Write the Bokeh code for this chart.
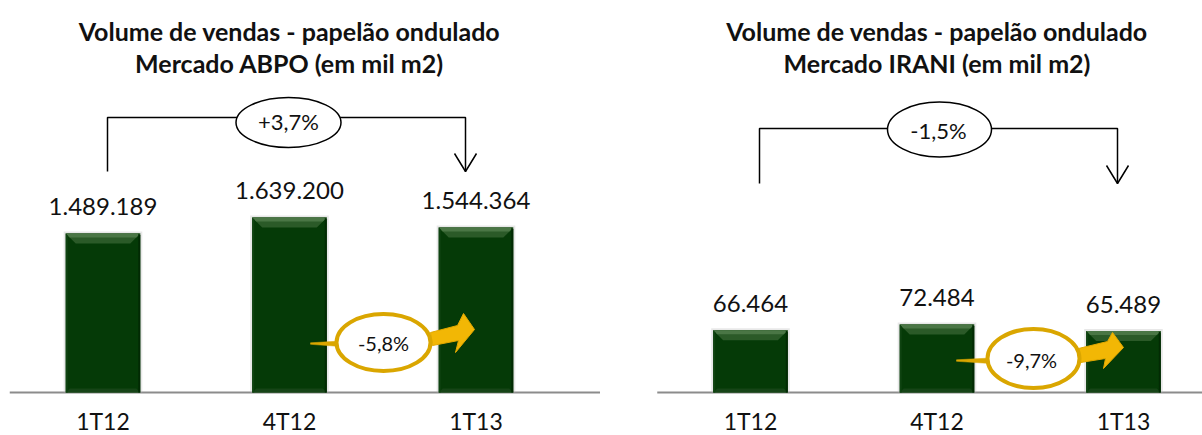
from bokeh.plotting import figure
from bokeh.layouts import row
from bokeh.models import Range1d
from bokeh.core.properties import value
from bokeh.embed import file_html
from bokeh.resources import INLINE

# ---------------- data ----------------
categories = ["1T12", "4T12", "1T13"]
abpo_volume = [1489189, 1639200, 1544364]
irani_volume = [66464, 72484, 65489]
title_line1 = "Volume de vendas - papelão ondulado"
abpo_title2 = "Mercado ABPO (em mil m2)"
irani_title2 = "Mercado IRANI (em mil m2)"
abpo_changes = ["+3,7%", "-5,8%"]    # 1T13 vs 1T12, 1T13 vs 4T12
irani_changes = ["-1,5%", "-9,7%"]

# ---------------- layout / style ----------------
H = 435
CAT_PX = 186.5
BASE_FY = 392
FONT = value("Lato")
BAR_W = 0.4
GREEN = "#053a07"
GOLD_LINE = "#DAA600"
GOLD_FILL = "#F2B705"

left_ann = dict(
    width=600, cat0=102.5, max_bar_px=175,
    br_left=107, br_right=465, br_top=117, br_bottom=171,
    br_ell=(288, 122, 105, 50), br_text=(288, 121),
    g_ell=(383, 342, 94, 57), g_text=(383, 342),
    tail=[(310, 342.3), (340, 340.5), (340, 346), (310, 343.8)],
    arrow=[(430, 332), (457, 325), (463, 313), (474, 329), (455, 352), (458, 340), (432, 345)],
)
right_ann = dict(
    width=602, cat0=150, max_bar_px=68,
    br_left=159, br_right=517, br_top=128, br_bottom=183,
    br_ell=(339, 129, 104, 55), br_text=(338, 130),
    g_ell=(433, 358, 92, 59), g_text=(431, 359),
    tail=[(356, 359.3), (390, 357.5), (390, 363), (356, 360.8)],
    arrow=[(478, 348), (507, 341), (512, 332), (523, 347), (503, 368), (505, 358), (480, 362)],
)


def fmt(v):
    return f"{v:,}".replace(",", ".")


def make_chart(values, title2, changes, a):
    width = a["width"]
    k = max(values) / a["max_bar_px"]
    xs0 = -a["cat0"] / CAT_PX
    p = figure(width=width, height=H,
               x_range=Range1d(xs0, xs0 + width / CAT_PX),
               y_range=Range1d(-(H - BASE_FY) * k, BASE_FY * k),
               output_backend="svg", toolbar_location=None,
               x_axis_type=None, y_axis_type=None, min_border=0,
               outline_line_color=None, background_fill_color="white",
               border_fill_color="white")

    def X(fx):
        return xs0 + fx / CAT_PX

    def Y(fy):
        return (BASE_FY - fy) * k

    xs = list(range(len(categories)))
    px_x = 1.0 / CAT_PX
    px_y = k

    # baseline (category axis line)
    p.line([-0.5, xs0 + width / CAT_PX], [0, 0], line_color="#8c8c8c", line_width=2)

    # bar shadow
    p.vbar(x=xs, width=BAR_W + 4 * px_x, top=[v + 2 * px_y for v in values], bottom=0,
           fill_color="#bdbdbd", fill_alpha=0.35, line_color=None)
    # bars
    p.vbar(x=xs, width=BAR_W, top=values, bottom=0, fill_color=GREEN, line_color=None)

    # bevel: top trapezoid (two tones), bottom strip, side edges
    b = 10
    txs, tys, txs2, tys2, bxs, bys, lxs, lys = [], [], [], [], [], [], [], []
    for x, v in zip(xs, values):
        x0, x1 = x - BAR_W / 2, x + BAR_W / 2
        txs.append([x0, x1, x1 - b * px_x, x0 + b * px_x])
        tys.append([v, v, v - b * px_y, v - b * px_y])
        h = 4
        txs2.append([x0, x1, x1 - h * px_x, x0 + h * px_x])
        tys2.append([v, v, v - h * px_y, v - h * px_y])
        bxs.append([x0, x1, x1 - 4 * px_x, x0 + 4 * px_x])
        bys.append([0, 0, 4 * px_y, 4 * px_y])
        lxs.append([x0, x0 + 2 * px_x, x0 + 2 * px_x, x0])
        lys.append([v, v - 2 * px_y, 0, 0])
    p.patches(txs, tys, fill_color="#2b5a28", line_color=None)
    p.patches(txs2, tys2, fill_color="#4a7645", line_color=None)
    p.patches(bxs, bys, fill_color="#164417", line_color=None)
    p.patches(lxs, lys, fill_color="#0f4311", line_color=None)
    rxs = [[x + BAR_W / 2 - 2 * px_x, x + BAR_W / 2, x + BAR_W / 2, x + BAR_W / 2 - 2 * px_x] for x in xs]
    p.patches(rxs, lys, fill_color="#022a03", line_color=None)

    # value labels
    p.text(x=xs, y=[v + 27 * px_y for v in values], text=[fmt(v) for v in values],
           text_font=FONT, text_font_size="24px", text_align="center",
           text_baseline="middle", text_color="#111111")

    # category labels
    p.text(x=xs, y=[Y(420)] * len(xs), text=categories,
           text_font=FONT, text_font_size="23px", text_align="center",
           text_baseline="middle", text_color="#111111")

    # titles
    p.text(x=[1, 1], y=[Y(30), Y(62)], text=[title_line1, title2],
           text_font=FONT, text_font_size="25px", text_font_style="bold",
           text_align="center", text_baseline="middle", text_color="#111111")

    # bracket 1T12 -> 1T13
    bl, br, bt, bb = a["br_left"], a["br_right"], a["br_top"], a["br_bottom"]
    p.line([X(bl), X(bl), X(br), X(br)], [Y(bb), Y(bt), Y(bt), Y(bb)],
           line_color="black", line_width=1.5)
    p.line([X(br - 11), X(br), X(br + 11)], [Y(bb - 18), Y(bb), Y(bb - 18)],
           line_color="black", line_width=1.5)
    ex, ey, ew, eh = a["br_ell"]
    p.ellipse(x=[X(ex)], y=[Y(ey)], width=[ew], height=[eh],
              width_units="screen", height_units="screen",
              fill_color="white", line_color="black", line_width=1.5)
    tx, ty = a["br_text"]
    p.text(x=[X(tx)], y=[Y(ty)], text=[changes[0]], text_font=FONT,
           text_font_size="22px", text_align="center", text_baseline="middle",
           text_color="#111111")

    # gold arrow 4T12 -> 1T13
    p.patch([X(fx) for fx, fy in a["tail"]], [Y(fy) for fx, fy in a["tail"]],
            fill_color=GOLD_LINE, line_color=GOLD_LINE, line_width=0.5)
    p.patch([X(fx) for fx, fy in a["arrow"]], [Y(fy) for fx, fy in a["arrow"]],
            fill_color=GOLD_FILL, line_color="#E3A800", line_width=1)
    gx, gy, gw, gh = a["g_ell"]
    p.ellipse(x=[X(gx)], y=[Y(gy)], width=[gw], height=[gh],
              width_units="screen", height_units="screen",
              fill_color="white", line_color=GOLD_LINE, line_width=4)
    tx, ty = a["g_text"]
    p.text(x=[X(tx)], y=[Y(ty)], text=[changes[1]], text_font=FONT,
           text_font_size="20px", text_align="center", text_baseline="middle",
           text_color="#111111")
    return p


p1 = make_chart(abpo_volume, abpo_title2, abpo_changes, left_ann)
p2 = make_chart(irani_volume, irani_title2, irani_changes, right_ann)
layout = row(p1, p2)

open("out.html", "w").write(file_html(layout, INLINE))
